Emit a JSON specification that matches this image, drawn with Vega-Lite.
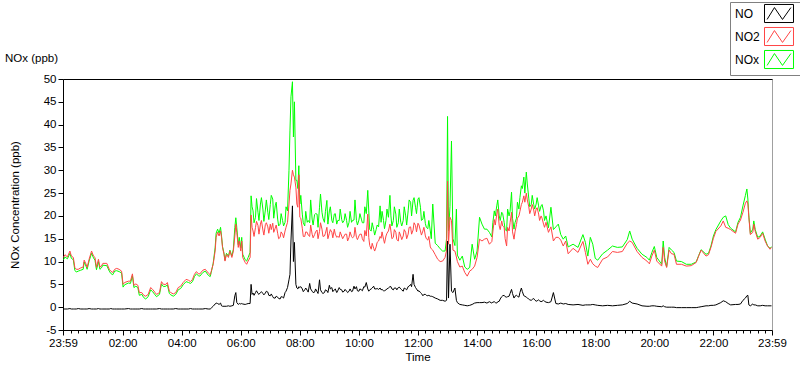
{
"$schema": "https://vega.github.io/schema/vega-lite/v6.json",
"width": 709, "height": 251,
"autosize": {"type": "none"},
"padding": {"left": 63, "top": 79, "right": 28, "bottom": 39},
"background": "#ffffff",
"title": {"text": "NOx (ppb)", "anchor": "start", "frame": "group", "dx": -58, "dy": 75, "offset": 12, "fontSize": 11.5, "fontWeight": "normal", "font": "Liberation Sans", "color": "#000000"},
"data": {"format": {"parse": {"t": "date:'%H:%M'"}}, "values": [
{"t":"00:00","NO":-0.4,"NO2":10.9,"NOx":10.4},
{"t":"00:03","NO":-0.4,"NO2":11.5,"NOx":11.0},
{"t":"00:08","NO":-0.4,"NO2":11.0,"NOx":10.6},
{"t":"00:13","NO":-0.3,"NO2":12.3,"NOx":11.8},
{"t":"00:16","NO":-0.4,"NO2":11.2,"NOx":10.7},
{"t":"00:20","NO":-0.4,"NO2":10.9,"NOx":10.4},
{"t":"00:23","NO":-0.4,"NO2":8.7,"NOx":8.1},
{"t":"00:26","NO":-0.4,"NO2":8.3,"NOx":7.7},
{"t":"00:30","NO":-0.3,"NO2":8.3,"NOx":7.9},
{"t":"00:35","NO":-0.4,"NO2":8.6,"NOx":8.1},
{"t":"00:40","NO":-0.4,"NO2":8.8,"NOx":8.3},
{"t":"00:42","NO":-0.4,"NO2":10.3,"NOx":9.9},
{"t":"00:46","NO":-0.4,"NO2":9.4,"NOx":8.9},
{"t":"00:48","NO":-0.4,"NO2":8.7,"NOx":8.3},
{"t":"00:52","NO":-0.3,"NO2":10.5,"NOx":10.1},
{"t":"00:57","NO":-0.4,"NO2":12.3,"NOx":11.8},
{"t":"01:01","NO":-0.4,"NO2":11.2,"NOx":10.8},
{"t":"01:04","NO":-0.4,"NO2":10.9,"NOx":10.3},
{"t":"01:07","NO":-0.4,"NO2":8.7,"NOx":8.2},
{"t":"01:11","NO":-0.3,"NO2":10.5,"NOx":10.0},
{"t":"01:14","NO":-0.4,"NO2":8.8,"NOx":8.3},
{"t":"01:17","NO":-0.4,"NO2":9.0,"NOx":8.6},
{"t":"01:20","NO":-0.4,"NO2":9.6,"NOx":9.2},
{"t":"01:28","NO":-0.4,"NO2":9.6,"NOx":9.1},
{"t":"01:33","NO":-0.4,"NO2":8.3,"NOx":7.9},
{"t":"01:36","NO":-0.3,"NO2":7.9,"NOx":7.4},
{"t":"01:40","NO":-0.4,"NO2":7.6,"NOx":7.1},
{"t":"01:44","NO":-0.4,"NO2":8.3,"NOx":7.9},
{"t":"01:48","NO":-0.4,"NO2":8.5,"NOx":8.0},
{"t":"01:53","NO":-0.4,"NO2":8.3,"NOx":7.8},
{"t":"01:58","NO":-0.4,"NO2":7.9,"NOx":7.5},
{"t":"02:01","NO":-0.4,"NO2":5.0,"NOx":4.4},
{"t":"02:04","NO":-0.4,"NO2":5.4,"NOx":4.9},
{"t":"02:12","NO":-0.3,"NO2":5.7,"NOx":5.3},
{"t":"02:16","NO":-0.4,"NO2":5.7,"NOx":5.2},
{"t":"02:20","NO":-0.4,"NO2":7.3,"NOx":6.9},
{"t":"02:23","NO":-0.4,"NO2":4.8,"NOx":4.3},
{"t":"02:27","NO":-0.4,"NO2":5.1,"NOx":4.6},
{"t":"02:31","NO":-0.4,"NO2":4.8,"NOx":4.3},
{"t":"02:34","NO":-0.4,"NO2":3.2,"NOx":2.6},
{"t":"02:39","NO":-0.3,"NO2":3.2,"NOx":2.8},
{"t":"02:43","NO":-0.4,"NO2":2.6,"NOx":2.1},
{"t":"02:47","NO":-0.4,"NO2":2.4,"NOx":1.8},
{"t":"02:52","NO":-0.4,"NO2":2.8,"NOx":2.3},
{"t":"02:57","NO":-0.4,"NO2":4.3,"NOx":3.8},
{"t":"03:01","NO":-0.4,"NO2":3.9,"NOx":3.4},
{"t":"03:06","NO":-0.4,"NO2":3.2,"NOx":2.7},
{"t":"03:09","NO":-0.4,"NO2":2.8,"NOx":2.3},
{"t":"03:15","NO":-0.3,"NO2":3.2,"NOx":2.8},
{"t":"03:19","NO":-0.4,"NO2":5.6,"NOx":5.1},
{"t":"03:23","NO":-0.4,"NO2":5.0,"NOx":4.5},
{"t":"03:28","NO":-0.4,"NO2":5.0,"NOx":4.6},
{"t":"03:31","NO":-0.4,"NO2":5.4,"NOx":4.9},
{"t":"03:35","NO":-0.4,"NO2":3.5,"NOx":3.0},
{"t":"03:38","NO":-0.4,"NO2":3.2,"NOx":2.7},
{"t":"03:43","NO":-0.4,"NO2":2.9,"NOx":2.4},
{"t":"03:48","NO":-0.3,"NO2":3.2,"NOx":2.8},
{"t":"03:53","NO":-0.4,"NO2":4.3,"NOx":3.8},
{"t":"03:58","NO":-0.4,"NO2":4.6,"NOx":4.1},
{"t":"04:03","NO":-0.4,"NO2":5.4,"NOx":4.9},
{"t":"04:09","NO":-0.4,"NO2":6.1,"NOx":5.6},
{"t":"04:14","NO":-0.4,"NO2":5.9,"NOx":5.4},
{"t":"04:18","NO":-0.3,"NO2":5.6,"NOx":5.2},
{"t":"04:22","NO":-0.4,"NO2":6.1,"NOx":5.6},
{"t":"04:26","NO":-0.4,"NO2":7.2,"NOx":6.7},
{"t":"04:30","NO":-0.4,"NO2":7.8,"NOx":7.3},
{"t":"04:34","NO":-0.4,"NO2":7.3,"NOx":6.9},
{"t":"04:37","NO":-0.4,"NO2":7.3,"NOx":6.8},
{"t":"04:43","NO":-0.4,"NO2":8.1,"NOx":7.6},
{"t":"04:48","NO":-0.3,"NO2":8.3,"NOx":7.9},
{"t":"04:54","NO":-0.4,"NO2":7.5,"NOx":7.0},
{"t":"04:58","NO":-0.4,"NO2":7.1,"NOx":6.7},
{"t":"05:00","NO":-0.2,"NO2":7.8,"NOx":7.6},
{"t":"05:04","NO":0.2,"NO2":9.4,"NOx":9.6},
{"t":"05:08","NO":0.7,"NO2":12.3,"NOx":13.0},
{"t":"05:10","NO":0.9,"NO2":15.3,"NOx":16.2},
{"t":"05:13","NO":0.8,"NO2":16.4,"NOx":17.1},
{"t":"05:16","NO":0.6,"NO2":15.6,"NOx":16.2},
{"t":"05:19","NO":0.9,"NO2":16.7,"NOx":17.5},
{"t":"05:21","NO":0.3,"NO2":15.3,"NOx":15.6},
{"t":"05:23","NO":0.2,"NO2":13.1,"NOx":13.3},
{"t":"05:26","NO":0.2,"NO2":11.6,"NOx":11.8},
{"t":"05:28","NO":0.2,"NO2":10.1,"NOx":10.3},
{"t":"05:31","NO":0.2,"NO2":11.6,"NOx":11.8},
{"t":"05:35","NO":0.3,"NO2":10.9,"NOx":11.2},
{"t":"05:38","NO":0.2,"NO2":12.3,"NOx":12.5},
{"t":"05:42","NO":0.3,"NO2":10.9,"NOx":11.2},
{"t":"05:45","NO":0.4,"NO2":12.3,"NOx":12.7},
{"t":"05:48","NO":2.5,"NO2":15.6,"NOx":17.5},
{"t":"05:50","NO":3.2,"NO2":18.2,"NOx":19.6},
{"t":"05:52","NO":1.0,"NO2":16.4,"NOx":17.4},
{"t":"05:55","NO":0.6,"NO2":13.1,"NOx":13.7},
{"t":"05:57","NO":0.8,"NO2":14.5,"NOx":15.3},
{"t":"06:00","NO":0.7,"NO2":12.3,"NOx":13.0},
{"t":"06:02","NO":0.8,"NO2":14.5,"NOx":15.3},
{"t":"06:04","NO":0.7,"NO2":10.9,"NOx":11.6},
{"t":"06:09","NO":0.6,"NO2":9.8,"NOx":10.4},
{"t":"06:12","NO":0.7,"NO2":9.4,"NOx":10.1},
{"t":"06:15","NO":0.8,"NO2":10.1,"NOx":10.9},
{"t":"06:19","NO":0.8,"NO2":10.9,"NOx":12.0},
{"t":"06:21","NO":5.0,"NO2":20.2,"NOx":24.4},
{"t":"06:23","NO":2.8,"NO2":17.5,"NOx":22.0},
{"t":"06:25","NO":3.1,"NO2":16.7,"NOx":21.1},
{"t":"06:27","NO":2.6,"NO2":15.5,"NOx":18.5},
{"t":"06:30","NO":3.2,"NO2":17.5,"NOx":19.7},
{"t":"06:32","NO":3.6,"NO2":18.8,"NOx":23.8},
{"t":"06:35","NO":3.0,"NO2":17.9,"NOx":20.8},
{"t":"06:37","NO":2.8,"NO2":16.0,"NOx":19.0},
{"t":"06:40","NO":3.2,"NO2":18.2,"NOx":22.6},
{"t":"06:42","NO":3.4,"NO2":19.0,"NOx":24.0},
{"t":"06:45","NO":3.0,"NO2":16.9,"NOx":21.5},
{"t":"06:47","NO":2.7,"NO2":15.8,"NOx":18.8},
{"t":"06:50","NO":3.1,"NO2":18.1,"NOx":21.3},
{"t":"06:52","NO":3.5,"NO2":18.5,"NOx":23.5},
{"t":"06:55","NO":3.3,"NO2":17.6,"NOx":20.8},
{"t":"06:57","NO":2.6,"NO2":16.2,"NOx":19.2},
{"t":"07:00","NO":2.5,"NO2":18.2,"NOx":22.5},
{"t":"07:02","NO":2.9,"NO2":17.0,"NOx":24.5},
{"t":"07:05","NO":2.3,"NO2":18.4,"NOx":23.7},
{"t":"07:07","NO":2.0,"NO2":16.4,"NOx":19.5},
{"t":"07:10","NO":2.0,"NO2":17.3,"NOx":22.2},
{"t":"07:12","NO":2.4,"NO2":18.0,"NOx":23.0},
{"t":"07:15","NO":2.2,"NO2":16.2,"NOx":19.3},
{"t":"07:17","NO":1.9,"NO2":15.0,"NOx":17.8},
{"t":"07:20","NO":1.8,"NO2":15.3,"NOx":18.2},
{"t":"07:22","NO":2.3,"NO2":16.5,"NOx":20.5},
{"t":"07:25","NO":2.2,"NO2":16.0,"NOx":19.0},
{"t":"07:27","NO":2.0,"NO2":15.2,"NOx":17.8},
{"t":"07:30","NO":3.2,"NO2":16.7,"NOx":18.6},
{"t":"07:32","NO":3.5,"NO2":17.5,"NOx":22.0},
{"t":"07:35","NO":4.3,"NO2":18.6,"NOx":21.1},
{"t":"07:38","NO":6.0,"NO2":22.6,"NOx":30.0},
{"t":"07:40","NO":7.2,"NO2":25.6,"NOx":38.8},
{"t":"07:42","NO":14.5,"NO2":27.0,"NOx":46.1},
{"t":"07:45","NO":22.2,"NO2":30.0,"NOx":49.4},
{"t":"07:47","NO":10.0,"NO2":29.0,"NOx":37.3},
{"t":"07:49","NO":14.2,"NO2":28.5,"NOx":45.0},
{"t":"07:52","NO":5.0,"NO2":26.3,"NOx":27.8},
{"t":"07:54","NO":4.2,"NO2":22.6,"NOx":27.8},
{"t":"07:56","NO":4.0,"NO2":21.9,"NOx":26.0},
{"t":"07:58","NO":4.5,"NO2":29.0,"NOx":31.0},
{"t":"08:00","NO":4.3,"NO2":19.7,"NOx":22.6},
{"t":"08:02","NO":4.5,"NO2":19.5,"NOx":24.5},
{"t":"08:05","NO":4.0,"NO2":17.3,"NOx":20.4},
{"t":"08:07","NO":3.4,"NO2":15.5,"NOx":18.5},
{"t":"08:10","NO":3.8,"NO2":15.5,"NOx":17.8},
{"t":"08:12","NO":4.2,"NO2":16.5,"NOx":21.0},
{"t":"08:15","NO":3.7,"NO2":16.4,"NOx":18.6},
{"t":"08:17","NO":3.3,"NO2":15.8,"NOx":19.0},
{"t":"08:20","NO":5.2,"NO2":15.5,"NOx":18.5},
{"t":"08:22","NO":4.0,"NO2":18.0,"NOx":23.5},
{"t":"08:25","NO":3.5,"NO2":16.0,"NOx":19.3},
{"t":"08:27","NO":3.2,"NO2":15.2,"NOx":18.0},
{"t":"08:30","NO":3.3,"NO2":15.9,"NOx":20.3},
{"t":"08:32","NO":4.0,"NO2":16.5,"NOx":20.5},
{"t":"08:35","NO":3.4,"NO2":16.9,"NOx":20.4},
{"t":"08:37","NO":3.0,"NO2":15.0,"NOx":17.5},
{"t":"08:40","NO":6.0,"NO2":16.6,"NOx":21.9},
{"t":"08:42","NO":3.8,"NO2":18.5,"NOx":24.8},
{"t":"08:45","NO":3.2,"NO2":17.1,"NOx":20.8},
{"t":"08:47","NO":3.0,"NO2":15.5,"NOx":19.5},
{"t":"08:50","NO":3.2,"NO2":15.6,"NOx":18.6},
{"t":"08:52","NO":3.8,"NO2":16.2,"NOx":21.0},
{"t":"08:55","NO":3.6,"NO2":17.5,"NOx":23.4},
{"t":"08:57","NO":3.2,"NO2":15.0,"NOx":18.2},
{"t":"09:00","NO":4.8,"NO2":16.2,"NOx":21.1},
{"t":"09:02","NO":4.0,"NO2":17.0,"NOx":22.0},
{"t":"09:05","NO":4.3,"NO2":16.4,"NOx":19.0},
{"t":"09:07","NO":3.4,"NO2":15.2,"NOx":18.5},
{"t":"09:10","NO":3.8,"NO2":17.1,"NOx":20.4},
{"t":"09:12","NO":4.0,"NO2":16.0,"NOx":20.5},
{"t":"09:15","NO":3.2,"NO2":15.3,"NOx":18.2},
{"t":"09:17","NO":3.6,"NO2":15.5,"NOx":19.0},
{"t":"09:20","NO":4.3,"NO2":15.3,"NOx":19.0},
{"t":"09:22","NO":3.9,"NO2":16.5,"NOx":21.5},
{"t":"09:25","NO":3.8,"NO2":15.6,"NOx":19.2},
{"t":"09:27","NO":3.3,"NO2":15.0,"NOx":18.5},
{"t":"09:30","NO":3.5,"NO2":15.6,"NOx":19.0},
{"t":"09:32","NO":3.9,"NO2":16.0,"NOx":20.5},
{"t":"09:35","NO":3.5,"NO2":16.0,"NOx":19.0},
{"t":"09:37","NO":3.2,"NO2":14.5,"NOx":17.5},
{"t":"09:40","NO":3.5,"NO2":15.3,"NOx":18.6},
{"t":"09:42","NO":4.0,"NO2":16.5,"NOx":21.0},
{"t":"09:45","NO":3.4,"NO2":15.5,"NOx":18.6},
{"t":"09:47","NO":3.5,"NO2":15.2,"NOx":19.0},
{"t":"09:50","NO":4.6,"NO2":15.5,"NOx":19.1},
{"t":"09:52","NO":4.0,"NO2":17.5,"NOx":23.5},
{"t":"09:55","NO":4.5,"NO2":15.3,"NOx":19.0},
{"t":"09:57","NO":3.6,"NO2":14.8,"NOx":18.0},
{"t":"10:00","NO":3.5,"NO2":15.6,"NOx":19.1},
{"t":"10:02","NO":4.0,"NO2":16.0,"NOx":20.5},
{"t":"10:05","NO":3.8,"NO2":16.0,"NOx":19.3},
{"t":"10:07","NO":3.6,"NO2":15.0,"NOx":18.5},
{"t":"10:10","NO":4.5,"NO2":14.4,"NOx":18.5},
{"t":"10:12","NO":4.4,"NO2":16.8,"NOx":22.0},
{"t":"10:15","NO":5.4,"NO2":15.6,"NOx":20.5},
{"t":"10:18","NO":4.0,"NO2":20.4,"NOx":25.6},
{"t":"10:20","NO":3.5,"NO2":15.3,"NOx":21.1},
{"t":"10:22","NO":3.8,"NO2":13.5,"NOx":17.0},
{"t":"10:25","NO":4.0,"NO2":12.7,"NOx":16.7},
{"t":"10:27","NO":4.2,"NO2":14.0,"NOx":18.5},
{"t":"10:30","NO":4.6,"NO2":12.9,"NOx":17.0},
{"t":"10:32","NO":4.0,"NO2":12.3,"NOx":15.8},
{"t":"10:35","NO":4.0,"NO2":13.2,"NOx":17.0},
{"t":"10:37","NO":4.1,"NO2":14.2,"NOx":18.0},
{"t":"10:40","NO":3.9,"NO2":14.5,"NOx":17.6},
{"t":"10:43","NO":4.2,"NO2":15.5,"NOx":22.2},
{"t":"10:45","NO":3.8,"NO2":15.1,"NOx":18.6},
{"t":"10:47","NO":3.9,"NO2":16.5,"NOx":21.0},
{"t":"10:50","NO":3.6,"NO2":14.9,"NOx":19.0},
{"t":"10:52","NO":3.6,"NO2":14.0,"NOx":17.2},
{"t":"10:55","NO":3.8,"NO2":15.6,"NOx":19.0},
{"t":"10:57","NO":4.0,"NO2":16.2,"NOx":21.5},
{"t":"11:00","NO":4.2,"NO2":16.7,"NOx":19.7},
{"t":"11:03","NO":4.5,"NO2":18.2,"NOx":24.5},
{"t":"11:05","NO":4.5,"NO2":16.7,"NOx":20.0},
{"t":"11:07","NO":4.0,"NO2":15.0,"NOx":17.8},
{"t":"11:10","NO":3.8,"NO2":15.3,"NOx":19.0},
{"t":"11:12","NO":4.2,"NO2":17.0,"NOx":22.0},
{"t":"11:15","NO":4.2,"NO2":16.4,"NOx":20.4},
{"t":"11:17","NO":3.8,"NO2":14.8,"NOx":17.5},
{"t":"11:20","NO":4.3,"NO2":14.5,"NOx":18.5},
{"t":"11:22","NO":4.4,"NO2":16.5,"NOx":21.5},
{"t":"11:25","NO":4.0,"NO2":15.6,"NOx":18.6},
{"t":"11:27","NO":3.8,"NO2":14.8,"NOx":17.8},
{"t":"11:30","NO":3.5,"NO2":15.6,"NOx":19.0},
{"t":"11:32","NO":4.2,"NO2":17.0,"NOx":22.0},
{"t":"11:35","NO":4.0,"NO2":16.4,"NOx":20.0},
{"t":"11:37","NO":3.8,"NO2":15.0,"NOx":18.0},
{"t":"11:40","NO":4.5,"NO2":16.0,"NOx":21.1},
{"t":"11:42","NO":4.6,"NO2":17.5,"NOx":23.5},
{"t":"11:45","NO":5.0,"NO2":17.6,"NOx":23.0},
{"t":"11:47","NO":4.5,"NO2":16.0,"NOx":20.0},
{"t":"11:50","NO":7.2,"NO2":16.9,"NOx":23.4},
{"t":"11:52","NO":5.0,"NO2":18.5,"NOx":24.0},
{"t":"11:55","NO":4.3,"NO2":17.9,"NOx":21.9},
{"t":"11:57","NO":4.0,"NO2":16.5,"NOx":20.5},
{"t":"12:00","NO":3.5,"NO2":18.4,"NOx":23.7},
{"t":"12:02","NO":3.6,"NO2":18.0,"NOx":24.0},
{"t":"12:05","NO":3.2,"NO2":16.7,"NOx":21.9},
{"t":"12:07","NO":3.0,"NO2":15.8,"NOx":19.0},
{"t":"12:10","NO":2.5,"NO2":16.7,"NOx":19.3},
{"t":"12:12","NO":2.8,"NO2":17.5,"NOx":21.0},
{"t":"12:15","NO":2.8,"NO2":15.6,"NOx":18.3},
{"t":"12:17","NO":2.6,"NO2":15.0,"NOx":17.5},
{"t":"12:20","NO":2.5,"NO2":14.7,"NOx":17.2},
{"t":"12:22","NO":2.6,"NO2":15.5,"NOx":19.0},
{"t":"12:25","NO":2.4,"NO2":13.2,"NOx":16.7},
{"t":"12:27","NO":2.4,"NO2":12.8,"NOx":15.0},
{"t":"12:30","NO":2.3,"NO2":12.5,"NOx":22.6},
{"t":"12:35","NO":2.0,"NO2":11.5,"NOx":14.0},
{"t":"12:40","NO":1.8,"NO2":10.5,"NOx":13.5},
{"t":"12:45","NO":1.5,"NO2":10.0,"NOx":12.8},
{"t":"12:50","NO":1.5,"NO2":10.1,"NOx":12.3},
{"t":"12:55","NO":1.3,"NO2":10.9,"NOx":12.3},
{"t":"12:58","NO":1.5,"NO2":12.5,"NOx":15.0},
{"t":"13:00","NO":14.5,"NO2":27.6,"NOx":41.8},
{"t":"13:02","NO":2.0,"NO2":13.8,"NOx":16.7},
{"t":"13:05","NO":13.8,"NO2":19.7,"NOx":22.0},
{"t":"13:08","NO":3.5,"NO2":19.0,"NOx":36.4},
{"t":"13:11","NO":3.2,"NO2":12.5,"NOx":15.0},
{"t":"13:15","NO":4.2,"NO2":12.3,"NOx":13.5},
{"t":"13:18","NO":1.5,"NO2":11.0,"NOx":21.5},
{"t":"13:20","NO":1.0,"NO2":10.0,"NOx":11.4},
{"t":"13:25","NO":0.6,"NO2":8.8,"NOx":10.3},
{"t":"13:30","NO":0.5,"NO2":9.0,"NOx":11.2},
{"t":"13:35","NO":0.4,"NO2":7.6,"NOx":8.8},
{"t":"13:40","NO":0.3,"NO2":6.8,"NOx":8.3},
{"t":"13:45","NO":0.4,"NO2":7.9,"NOx":8.7},
{"t":"13:50","NO":0.6,"NO2":8.3,"NOx":13.8},
{"t":"13:55","NO":0.9,"NO2":9.0,"NOx":10.5},
{"t":"14:00","NO":1.0,"NO2":10.9,"NOx":12.3},
{"t":"14:05","NO":1.0,"NO2":14.9,"NOx":19.7},
{"t":"14:10","NO":1.0,"NO2":14.5,"NOx":18.2},
{"t":"14:15","NO":1.1,"NO2":14.9,"NOx":17.1},
{"t":"14:20","NO":0.9,"NO2":15.1,"NOx":17.1},
{"t":"14:25","NO":1.2,"NO2":13.8,"NOx":16.4},
{"t":"14:30","NO":0.9,"NO2":14.4,"NOx":15.4},
{"t":"14:32","NO":1.1,"NO2":16.5,"NOx":18.5},
{"t":"14:35","NO":1.2,"NO2":19.2,"NOx":21.1},
{"t":"14:37","NO":1.0,"NO2":18.0,"NOx":20.0},
{"t":"14:40","NO":0.9,"NO2":20.4,"NOx":22.2},
{"t":"14:42","NO":1.2,"NO2":21.5,"NOx":23.5},
{"t":"14:45","NO":1.3,"NO2":17.8,"NOx":20.0},
{"t":"14:47","NO":1.8,"NO2":17.0,"NOx":19.0},
{"t":"14:50","NO":2.3,"NO2":18.9,"NOx":20.8},
{"t":"14:52","NO":2.5,"NO2":17.8,"NOx":20.5},
{"t":"14:55","NO":2.6,"NO2":17.5,"NOx":18.6},
{"t":"14:57","NO":2.3,"NO2":15.0,"NOx":17.0},
{"t":"15:00","NO":2.2,"NO2":13.4,"NOx":16.7},
{"t":"15:02","NO":2.3,"NO2":17.5,"NOx":21.5},
{"t":"15:05","NO":2.4,"NO2":16.7,"NOx":20.0},
{"t":"15:07","NO":3.0,"NO2":18.5,"NOx":21.0},
{"t":"15:10","NO":3.9,"NO2":20.8,"NOx":25.2},
{"t":"15:12","NO":3.0,"NO2":16.5,"NOx":19.5},
{"t":"15:15","NO":2.0,"NO2":14.9,"NOx":17.1},
{"t":"15:17","NO":2.4,"NO2":16.5,"NOx":18.5},
{"t":"15:20","NO":2.6,"NO2":18.1,"NOx":19.5},
{"t":"15:22","NO":2.4,"NO2":19.5,"NOx":23.0},
{"t":"15:25","NO":2.2,"NO2":20.0,"NOx":21.5},
{"t":"15:27","NO":3.2,"NO2":21.0,"NOx":24.0},
{"t":"15:30","NO":4.2,"NO2":22.5,"NOx":26.6},
{"t":"15:32","NO":3.4,"NO2":23.0,"NOx":26.0},
{"t":"15:35","NO":2.5,"NO2":24.4,"NOx":28.5},
{"t":"15:37","NO":2.4,"NO2":23.0,"NOx":25.0},
{"t":"15:40","NO":2.2,"NO2":25.0,"NOx":29.6},
{"t":"15:42","NO":2.0,"NO2":23.5,"NOx":27.0},
{"t":"15:45","NO":1.8,"NO2":22.0,"NOx":23.9},
{"t":"15:47","NO":1.6,"NO2":20.5,"NOx":22.0},
{"t":"15:50","NO":1.5,"NO2":21.5,"NOx":22.5},
{"t":"15:52","NO":1.7,"NO2":22.5,"NOx":24.5},
{"t":"15:55","NO":1.9,"NO2":21.3,"NOx":22.5},
{"t":"15:57","NO":1.6,"NO2":20.0,"NOx":21.5},
{"t":"16:00","NO":1.3,"NO2":21.5,"NOx":22.6},
{"t":"16:02","NO":1.4,"NO2":21.8,"NOx":24.0},
{"t":"16:05","NO":1.6,"NO2":20.4,"NOx":22.2},
{"t":"16:07","NO":1.4,"NO2":19.0,"NOx":21.0},
{"t":"16:10","NO":1.2,"NO2":20.0,"NOx":22.2},
{"t":"16:12","NO":1.3,"NO2":19.5,"NOx":22.5},
{"t":"16:15","NO":1.5,"NO2":18.2,"NOx":21.1},
{"t":"16:17","NO":1.3,"NO2":17.5,"NOx":19.0},
{"t":"16:20","NO":1.1,"NO2":18.6,"NOx":20.0},
{"t":"16:25","NO":1.0,"NO2":16.4,"NOx":17.4},
{"t":"16:30","NO":1.2,"NO2":17.6,"NOx":21.9},
{"t":"16:35","NO":3.2,"NO2":14.5,"NOx":17.0},
{"t":"16:40","NO":0.8,"NO2":15.3,"NOx":17.6},
{"t":"16:45","NO":0.7,"NO2":15.3,"NOx":18.2},
{"t":"16:50","NO":0.9,"NO2":14.7,"NOx":15.9},
{"t":"16:55","NO":0.7,"NO2":13.4,"NOx":14.9},
{"t":"17:00","NO":0.8,"NO2":14.5,"NOx":15.6},
{"t":"17:05","NO":0.6,"NO2":11.7,"NOx":13.2},
{"t":"17:15","NO":0.5,"NO2":12.9,"NOx":13.8},
{"t":"17:25","NO":0.6,"NO2":12.0,"NOx":13.1},
{"t":"17:35","NO":0.4,"NO2":14.4,"NOx":15.9},
{"t":"17:40","NO":0.5,"NO2":12.0,"NOx":14.2},
{"t":"17:45","NO":0.5,"NO2":9.4,"NOx":11.2},
{"t":"17:50","NO":0.5,"NO2":10.5,"NOx":15.3},
{"t":"17:55","NO":0.6,"NO2":9.5,"NOx":13.8},
{"t":"18:00","NO":0.5,"NO2":9.0,"NOx":10.7},
{"t":"18:05","NO":0.4,"NO2":8.7,"NOx":10.3},
{"t":"18:15","NO":0.3,"NO2":10.5,"NOx":11.7},
{"t":"18:25","NO":0.4,"NO2":11.0,"NOx":12.5},
{"t":"18:35","NO":0.3,"NO2":12.2,"NOx":13.4},
{"t":"18:45","NO":0.4,"NO2":12.0,"NOx":13.1},
{"t":"18:55","NO":0.5,"NO2":12.2,"NOx":13.2},
{"t":"19:05","NO":0.8,"NO2":14.0,"NOx":14.8},
{"t":"19:10","NO":1.3,"NO2":14.5,"NOx":16.7},
{"t":"19:15","NO":0.9,"NO2":14.2,"NOx":14.9},
{"t":"19:25","NO":0.7,"NO2":12.2,"NOx":12.9},
{"t":"19:35","NO":0.3,"NO2":10.9,"NOx":11.6},
{"t":"19:45","NO":0.2,"NO2":10.1,"NOx":10.9},
{"t":"19:50","NO":0.2,"NO2":9.5,"NOx":10.3},
{"t":"19:55","NO":0.3,"NO2":11.2,"NOx":12.0},
{"t":"20:00","NO":0.3,"NO2":12.5,"NOx":13.3},
{"t":"20:05","NO":0.2,"NO2":10.1,"NOx":10.9},
{"t":"20:15","NO":0.1,"NO2":9.0,"NOx":9.4},
{"t":"20:18","NO":0.3,"NO2":13.1,"NOx":14.5},
{"t":"20:21","NO":0.1,"NO2":10.1,"NOx":10.9},
{"t":"20:25","NO":0.0,"NO2":8.7,"NOx":8.8},
{"t":"20:30","NO":0.0,"NO2":12.5,"NOx":13.1},
{"t":"20:35","NO":0.0,"NO2":11.7,"NOx":12.5},
{"t":"20:40","NO":0.0,"NO2":11.6,"NOx":12.0},
{"t":"20:45","NO":-0.1,"NO2":9.4,"NOx":10.1},
{"t":"20:55","NO":-0.1,"NO2":9.4,"NOx":10.0},
{"t":"21:05","NO":-0.1,"NO2":9.0,"NOx":9.4},
{"t":"21:15","NO":-0.1,"NO2":9.1,"NOx":9.4},
{"t":"21:25","NO":-0.1,"NO2":9.8,"NOx":9.9},
{"t":"21:30","NO":0.0,"NO2":11.2,"NOx":11.3},
{"t":"21:35","NO":0.1,"NO2":12.5,"NOx":12.6},
{"t":"21:45","NO":0.3,"NO2":11.2,"NOx":11.6},
{"t":"21:50","NO":0.3,"NO2":11.5,"NOx":11.8},
{"t":"21:55","NO":0.4,"NO2":13.1,"NOx":13.4},
{"t":"22:00","NO":0.4,"NO2":15.1,"NOx":15.6},
{"t":"22:05","NO":0.5,"NO2":16.6,"NOx":17.0},
{"t":"22:15","NO":1.0,"NO2":17.8,"NOx":18.9},
{"t":"22:20","NO":1.4,"NO2":18.9,"NOx":19.7},
{"t":"22:25","NO":1.2,"NO2":17.5,"NOx":20.0},
{"t":"22:30","NO":0.8,"NO2":17.3,"NOx":18.1},
{"t":"22:35","NO":0.5,"NO2":17.0,"NOx":17.3},
{"t":"22:45","NO":0.6,"NO2":16.2,"NOx":16.5},
{"t":"22:50","NO":0.6,"NO2":18.2,"NOx":18.6},
{"t":"22:55","NO":0.7,"NO2":19.1,"NOx":19.7},
{"t":"23:00","NO":1.5,"NO2":20.8,"NOx":22.2},
{"t":"23:05","NO":2.0,"NO2":22.8,"NOx":24.5},
{"t":"23:08","NO":2.5,"NO2":23.3,"NOx":25.9},
{"t":"23:10","NO":2.6,"NO2":22.6,"NOx":23.7},
{"t":"23:12","NO":0.5,"NO2":19.7,"NOx":20.0},
{"t":"23:15","NO":0.3,"NO2":15.9,"NOx":16.2},
{"t":"23:20","NO":0.7,"NO2":16.4,"NOx":17.1},
{"t":"23:22","NO":0.5,"NO2":18.2,"NOx":18.9},
{"t":"23:25","NO":0.5,"NO2":16.6,"NOx":17.0},
{"t":"23:30","NO":0.3,"NO2":14.9,"NOx":15.3},
{"t":"23:35","NO":0.3,"NO2":15.3,"NOx":15.6},
{"t":"23:40","NO":0.4,"NO2":16.2,"NOx":16.5},
{"t":"23:45","NO":0.3,"NO2":14.5,"NOx":14.9},
{"t":"23:50","NO":0.3,"NO2":13.4,"NOx":13.4},
{"t":"23:55","NO":0.3,"NO2":12.7,"NOx":12.9},
{"t":"23:58","NO":0.3,"NO2":13.1,"NOx":13.2}
]},
"layer": [
{"mark": {"type": "line", "strokeWidth": 1, "interpolate": "linear"},
 "encoding": {
  "x": {"field": "t", "type": "temporal",
    "scale": {"domain": [{"year": 1899, "month": 12, "date": 31, "hours": 23, "minutes": 59}, {"year": 1900, "month": 1, "date": 1, "hours": 23, "minutes": 59}], "nice": false},
    "axis": {"orient": "bottom", "title": "Time", "format": "%H:%M", "labelFlush": false, "labelOverlap": false, "labelBound": false, "tickSize": 5, "labelPadding": 2, "titlePadding": 3, "domainColor": "#000000",
      "values": [
        {"year": 1899, "month": 12, "date": 31, "hours": 23, "minutes": 59},
        {"year": 1900, "month": 1, "date": 1, "hours": 2, "minutes": 0},
        {"year": 1900, "month": 1, "date": 1, "hours": 4, "minutes": 0},
        {"year": 1900, "month": 1, "date": 1, "hours": 6, "minutes": 0},
        {"year": 1900, "month": 1, "date": 1, "hours": 8, "minutes": 0},
        {"year": 1900, "month": 1, "date": 1, "hours": 10, "minutes": 0},
        {"year": 1900, "month": 1, "date": 1, "hours": 12, "minutes": 0},
        {"year": 1900, "month": 1, "date": 1, "hours": 14, "minutes": 0},
        {"year": 1900, "month": 1, "date": 1, "hours": 16, "minutes": 0},
        {"year": 1900, "month": 1, "date": 1, "hours": 18, "minutes": 0},
        {"year": 1900, "month": 1, "date": 1, "hours": 20, "minutes": 0},
        {"year": 1900, "month": 1, "date": 1, "hours": 22, "minutes": 0},
        {"year": 1900, "month": 1, "date": 1, "hours": 23, "minutes": 59}]}},
  "y": {"field": "NOx", "type": "quantitative",
    "scale": {"domain": [-5, 50], "nice": false, "zero": false},
    "axis": {"title": "NOx Concentration (ppb)", "values": [-5, 0, 5, 10, 15, 20, 25, 30, 35, 40, 45, 50], "labelExpr": "'' + datum.value", "labelOverlap": false, "labelBound": false, "tickSize": 5, "labelPadding": 2, "titlePadding": 23, "domainColor": "#000000"}},
  "color": {"datum": "NOx", "type": "nominal",
    "scale": {"domain": ["NO", "NO2", "NOx"], "range": ["#000000", "#ff4545", "#00ff00"]},
    "legend": {"orient": "none", "legendX": 667, "legendY": -77, "title": null,
      "symbolType": "M-2.07,-1.29H2.07V1.29H-2.07Z M-1.7,0.85L-0.65,-0.85L0.5,0.85L1.7,-0.85",
      "symbolSize": 196, "symbolStrokeWidth": 1, "symbolOffset": 37.5, "labelOffset": -51.5,
      "rowPadding": 0, "padding": 4, "labelFontSize": 12, "labelFont": "Liberation Sans", "labelColor": "#000000",
      "strokeColor": "#808080", "fillColor": "#ffffff"}}
 }},
{"mark": {"type": "line", "strokeWidth": 1, "interpolate": "linear"},
 "encoding": {
  "x": {"field": "t", "type": "temporal",
    "axis": {"orient": "bottom", "title": null, "labels": false, "domain": false, "grid": false, "tickSize": 3, "tickCount": 96}},
  "y": {"field": "NO2", "type": "quantitative",
    "axis": {"title": "NOx Concentration (ppb)", "values": [-5, 0, 5, 10, 15, 20, 25, 30, 35, 40, 45, 50], "labelExpr": "'' + datum.value", "labelOverlap": false, "labelBound": false, "tickSize": 5, "labelPadding": 2, "titlePadding": 23, "domainColor": "#000000"}},
  "color": {"datum": "NO2", "type": "nominal"}
 }},
{"mark": {"type": "line", "strokeWidth": 1, "interpolate": "linear"},
 "encoding": {
  "x": {"field": "t", "type": "temporal",
    "axis": {"orient": "top", "title": null, "labels": false, "ticks": false, "domain": true, "grid": false, "domainColor": "#000000"}},
  "y": {"field": "NO", "type": "quantitative",
    "axis": {"title": "NOx Concentration (ppb)", "values": [-5, 0, 5, 10, 15, 20, 25, 30, 35, 40, 45, 50], "labelExpr": "'' + datum.value", "labelOverlap": false, "labelBound": false, "tickSize": 5, "labelPadding": 2, "titlePadding": 23, "domainColor": "#000000"}},
  "color": {"datum": "NO", "type": "nominal"}
 }}
],
"resolve": {"axis": {"x": "independent"}},
"config": {
  "font": "Liberation Sans",
  "view": {"stroke": "#a0a0a0"},
  "axis": {"labelFont": "Liberation Sans", "labelFontSize": 11.5, "labelColor": "#000000", "titleFont": "Liberation Sans", "titleFontSize": 11.5, "titleFontWeight": "normal", "titleColor": "#000000", "tickColor": "#000000", "grid": false},
  "axisY": {"labelOverlap": false}
}
}
